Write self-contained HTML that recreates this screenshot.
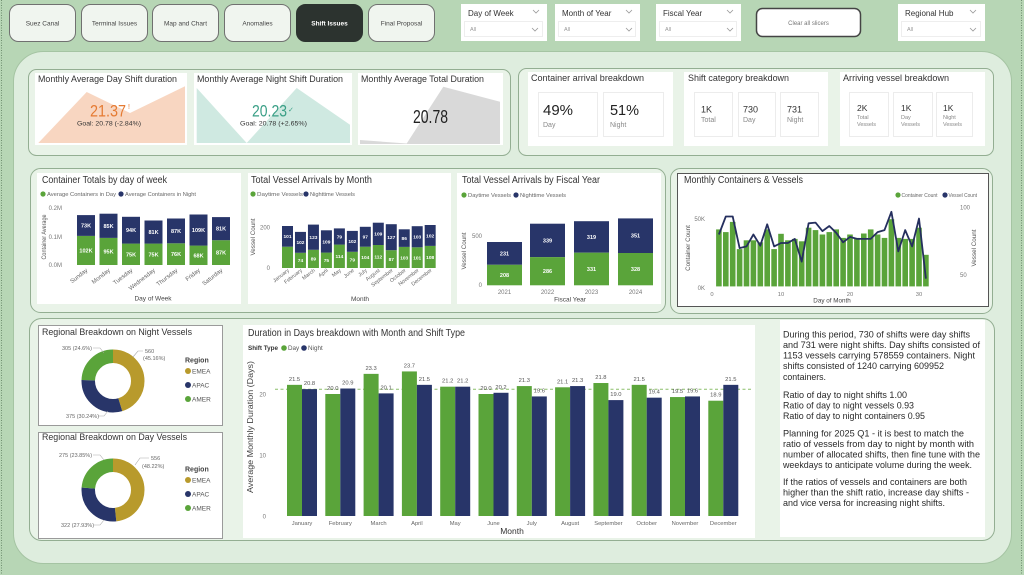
<!DOCTYPE html>
<html><head><meta charset="utf-8"><style>
html,body{margin:0;padding:0;width:1024px;height:575px;overflow:hidden;background:#b7d6b5}
svg{display:block}
text{font-family:"Liberation Sans",sans-serif}
</style></head><body>
<svg width="1024" height="575" viewBox="0 0 1024 575" xmlns="http://www.w3.org/2000/svg">
<rect x="0" y="0" width="1024" height="575" fill="#b7d6b5"/>
<line x1="1.5" y1="0" x2="1.5" y2="575" stroke="#6f8f6f" stroke-width="1" stroke-dasharray="1 1.5"/>
<line x1="1021.5" y1="0" x2="1021.5" y2="575" stroke="#6f8f6f" stroke-width="1" stroke-dasharray="1 1.5"/>

<!-- NAV -->
<g font-size="6.5" fill="#444" text-anchor="middle">
<rect x="9.5" y="4.5" width="66" height="37" rx="9" fill="#f0f5ef" stroke="#707070"/>
<text x="42.5" y="25.5">Suez Canal</text>
<rect x="81.5" y="4.5" width="66" height="37" rx="9" fill="#f0f5ef" stroke="#707070"/>
<text x="114.5" y="25.5">Terminal Issues</text>
<rect x="152.5" y="4.5" width="66" height="37" rx="9" fill="#f0f5ef" stroke="#707070"/>
<text x="185.5" y="25.5">Map and Chart</text>
<rect x="224.5" y="4.5" width="66" height="37" rx="9" fill="#f0f5ef" stroke="#707070"/>
<text x="257.5" y="25.5">Anomalies</text>
<rect x="296.5" y="4.5" width="66" height="37" rx="9" fill="#2c332f" stroke="#2c332f"/>
<text x="329.5" y="25.5" fill="#fff" font-weight="bold">Shift Issues</text>
<rect x="368.5" y="4.5" width="66" height="37" rx="9" fill="#f0f5ef" stroke="#707070"/>
<text x="401.5" y="25.5">Final Proposal</text>
</g>

<!-- SLICERS -->
<g>
<rect x="461" y="4" width="86" height="37" fill="#fff"/>
<text x="468" y="16" font-size="8" fill="#333">Day of Week</text>
<polyline points="533,10 536,13 539,10" fill="none" stroke="#999" stroke-width="0.8"/>
<rect x="464.5" y="21.5" width="78" height="15" fill="#fff" stroke="#eee"/>
<text x="470" y="31" font-size="5.5" fill="#999">All</text>
<polyline points="532,28 535,31 538,28" fill="none" stroke="#999" stroke-width="0.8"/>

<rect x="555" y="4" width="85" height="37" fill="#fff"/>
<text x="562" y="16" font-size="8" fill="#333">Month of Year</text>
<polyline points="626,10 629,13 632,10" fill="none" stroke="#999" stroke-width="0.8"/>
<rect x="558.5" y="21.5" width="77" height="15" fill="#fff" stroke="#eee"/>
<text x="564" y="31" font-size="5.5" fill="#999">All</text>
<polyline points="626,28 629,31 632,28" fill="none" stroke="#999" stroke-width="0.8"/>

<rect x="656" y="4" width="85" height="37" fill="#fff"/>
<text x="663" y="16" font-size="8" fill="#333">Fiscal Year</text>
<polyline points="727,10 730,13 733,10" fill="none" stroke="#999" stroke-width="0.8"/>
<rect x="659.5" y="21.5" width="77" height="15" fill="#fff" stroke="#eee"/>
<text x="665" y="31" font-size="5.5" fill="#999">All</text>
<polyline points="727,28 730,31 733,28" fill="none" stroke="#999" stroke-width="0.8"/>

<rect x="756.5" y="8.5" width="104" height="28" rx="6" fill="#fff" stroke="#444" stroke-width="1.5"/>
<text x="808.5" y="25" font-size="6" fill="#777" text-anchor="middle">Clear all slicers</text>

<rect x="898" y="4" width="87" height="37" fill="#fff"/>
<text x="905" y="16" font-size="8" fill="#333">Regional Hub</text>
<polyline points="970,10 973,13 976,10" fill="none" stroke="#999" stroke-width="0.8"/>
<rect x="901.5" y="21.5" width="79" height="15" fill="#fff" stroke="#eee"/>
<text x="907" y="31" font-size="5.5" fill="#999">All</text>
<polyline points="970,28 973,31 976,28" fill="none" stroke="#999" stroke-width="0.8"/>
</g>

<!-- MAIN PANEL -->
<rect x="13.5" y="51.5" width="998" height="512" rx="30" fill="#deedde" stroke="#a5c4a3"/>

<!-- ROW CONTAINERS -->
<g fill="#e9f3e8" stroke="#93ae92">
<rect x="28.5" y="69.5" width="482" height="86" rx="8"/>
<rect x="518.5" y="68.5" width="475" height="87" rx="8"/>
<rect x="30.5" y="168.5" width="635" height="144" rx="10"/>
<rect x="670.5" y="168.5" width="322" height="145" rx="10"/>
<rect x="29.5" y="318.5" width="965" height="222" rx="12"/>
</g>

<!-- CARDS -->
<g fill="#fff">
<rect x="35" y="73" width="152" height="72"/>
<rect x="194" y="73" width="158" height="72"/>
<rect x="358" y="73" width="145" height="72"/>
<rect x="528" y="72" width="145" height="74"/>
<rect x="684" y="72" width="144" height="74"/>
<rect x="840" y="72" width="145" height="74"/>
<rect x="37" y="173" width="204" height="131"/>
<rect x="248" y="173" width="203" height="131"/>
<rect x="457" y="173" width="204" height="131"/>
<rect x="677.5" y="173.5" width="311" height="133" stroke="#555"/>
<rect x="38.5" y="325.5" width="184" height="100" stroke="#9a9a9a"/>
<rect x="38.5" y="432.5" width="184" height="106" stroke="#9a9a9a"/>
<rect x="243" y="325" width="512" height="213"/>
<rect x="780" y="320" width="205" height="217"/>
</g>

<!-- KPI ROW LEFT -->
<polygon points="38.3,143 86.7,92 130,113 185,86.3 185,143" fill="#f8d6c1"/>
<polygon points="196.7,88 246.7,143 296.7,88 350,124.7 350,143 196.7,143" fill="#cfe9e1"/>
<polygon points="360,140 406.7,143.5 443.3,86.7 500,101.7 500,144 360,144" fill="#d9d9d9"/>
<g font-size="9" fill="#333">
<text x="38" y="82" textLength="139" lengthAdjust="spacingAndGlyphs">Monthly Average Day Shift duration</text>
<text x="197" y="82" textLength="146" lengthAdjust="spacingAndGlyphs">Monthly Average Night Shift Duration</text>
<text x="361" y="82" textLength="123" lengthAdjust="spacingAndGlyphs">Monthly Average Total Duration</text>
</g>
<text x="90" y="116.5" font-size="17" fill="#e57b33" textLength="36" lengthAdjust="spacingAndGlyphs">21.37</text>
<text x="128" y="109" font-size="7" fill="#e57b33">!</text>
<text x="109" y="125.5" font-size="6.8" fill="#333" text-anchor="middle" textLength="64" lengthAdjust="spacingAndGlyphs">Goal: 20.78 (-2.84%)</text>
<text x="252" y="116.5" font-size="17" fill="#3a9f86" textLength="35" lengthAdjust="spacingAndGlyphs">20.23</text>
<text x="288" y="112" font-size="7" fill="#3a9f86">✓</text>
<text x="273.5" y="125.5" font-size="6.8" fill="#333" text-anchor="middle" textLength="67" lengthAdjust="spacingAndGlyphs">Goal: 20.78 (+2.65%)</text>
<text x="413" y="123" font-size="18" fill="#222" textLength="35" lengthAdjust="spacingAndGlyphs">20.78</text>

<!-- KPI ROW RIGHT -->
<g font-size="9" fill="#333">
<text x="531" y="81" textLength="113" lengthAdjust="spacingAndGlyphs">Container arrival breakdown</text>
<text x="688" y="81" textLength="101" lengthAdjust="spacingAndGlyphs">Shift category breakdown</text>
<text x="843" y="81" textLength="106" lengthAdjust="spacingAndGlyphs">Arriving vessel breakdown</text>
</g>
<g fill="#fff" stroke="#ececec">
<rect x="538.5" y="92.5" width="59" height="44"/>
<rect x="603.5" y="92.5" width="60" height="44"/>
<rect x="694.5" y="92.5" width="38" height="44"/>
<rect x="738.5" y="92.5" width="37" height="44"/>
<rect x="780.5" y="92.5" width="38" height="44"/>
<rect x="849.5" y="92.5" width="39" height="44"/>
<rect x="893.5" y="92.5" width="39" height="44"/>
<rect x="936.5" y="92.5" width="36" height="44"/>
</g>
<text x="543" y="115" font-size="15" fill="#222" textLength="30" lengthAdjust="spacingAndGlyphs">49%</text>
<text x="543" y="127" font-size="7" fill="#888">Day</text>
<text x="610" y="115" font-size="15" fill="#222" textLength="29" lengthAdjust="spacingAndGlyphs">51%</text>
<text x="610" y="127" font-size="7" fill="#888">Night</text>
<g font-size="9" fill="#333">
<text x="701" y="112.5">1K</text>
<text x="743" y="112.5">730</text>
<text x="787" y="112.5">731</text>
</g>
<g font-size="7" fill="#888">
<text x="701" y="122">Total</text>
<text x="743" y="122">Day</text>
<text x="787" y="122">Night</text>
</g>
<g font-size="8.5" fill="#333">
<text x="857" y="111">2K</text>
<text x="901" y="111">1K</text>
<text x="943" y="111">1K</text>
</g>
<g font-size="5.5" fill="#888">
<text x="857" y="119">Total</text><text x="857" y="126">Vessels</text>
<text x="901" y="119">Day</text><text x="901" y="126">Vessels</text>
<text x="943" y="119">Night</text><text x="943" y="126">Vessels</text>
</g>

<!-- ROW 2 TITLES -->
<g font-size="10" fill="#333">
<text x="42" y="183" textLength="125" lengthAdjust="spacingAndGlyphs">Container Totals by day of week</text>
<text x="251" y="183" textLength="121" lengthAdjust="spacingAndGlyphs">Total Vessel Arrivals by Month</text>
<text x="462" y="183" textLength="138" lengthAdjust="spacingAndGlyphs">Total Vessel Arrivals by Fiscal Year</text>
<text x="684" y="183" textLength="119" lengthAdjust="spacingAndGlyphs">Monthly Containers &amp; Vessels</text>
</g>
<!-- legends row 2 -->
<g font-size="5.8" fill="#666">
<circle cx="43" cy="194" r="2.6" fill="#5aa43a"/>
<text x="47" y="196" textLength="69" lengthAdjust="spacingAndGlyphs">Average Containers in Day</text>
<circle cx="121" cy="194" r="2.6" fill="#283569"/>
<text x="125" y="196" textLength="71" lengthAdjust="spacingAndGlyphs">Average Containers in Night</text>
<circle cx="253" cy="194" r="2.6" fill="#5aa43a"/>
<text x="257" y="196" textLength="46" lengthAdjust="spacingAndGlyphs">Daytime Vessels</text>
<circle cx="306" cy="194" r="2.6" fill="#283569"/>
<text x="310" y="196" textLength="45" lengthAdjust="spacingAndGlyphs">Nighttime Vessels</text>
<circle cx="464" cy="195" r="2.6" fill="#5aa43a"/>
<text x="468" y="197" textLength="43" lengthAdjust="spacingAndGlyphs">Daytime Vessels</text>
<circle cx="516" cy="195" r="2.6" fill="#283569"/>
<text x="520" y="197" textLength="46" lengthAdjust="spacingAndGlyphs">Nighttime Vessels</text>
<circle cx="898" cy="195" r="2.6" fill="#5aa43a"/>
<text x="901.5" y="197" textLength="36" lengthAdjust="spacingAndGlyphs">Container Count</text>
<circle cx="945" cy="195" r="2.6" fill="#283569"/>
<text x="948.5" y="197" textLength="28.5" lengthAdjust="spacingAndGlyphs">Vessel Count</text>
</g>

<!-- CONTAINER TOTALS CHART -->
<g font-size="6" fill="#777" text-anchor="end">
<text x="62" y="210">0.2M</text>
<text x="62" y="239">0.1M</text>
<text x="62" y="267">0.0M</text>
</g>
<text transform="translate(46,237) rotate(-90)" text-anchor="middle" font-size="6.3" fill="#555" textLength="45" lengthAdjust="spacingAndGlyphs">Container Average</text>
<g fill="#5aa43a">
<rect x="77" y="235.9" width="18" height="29.1"/>
<rect x="99.5" y="237.9" width="18" height="27.1"/>
<rect x="122" y="243.6" width="18" height="21.4"/>
<rect x="144.5" y="243.6" width="18" height="21.4"/>
<rect x="167" y="243.3" width="18" height="21.7"/>
<rect x="189.5" y="245.6" width="18" height="19.4"/>
<rect x="212" y="240.2" width="18" height="24.8"/>
</g>
<g fill="#283569">
<rect x="77" y="215.1" width="18" height="20.8"/>
<rect x="99.5" y="213.7" width="18" height="24.2"/>
<rect x="122" y="216.8" width="18" height="26.8"/>
<rect x="144.5" y="220.5" width="18" height="23.1"/>
<rect x="167" y="218.5" width="18" height="24.8"/>
<rect x="189.5" y="214.5" width="18" height="31.1"/>
<rect x="212" y="217.1" width="18" height="23.1"/>
</g>
<g font-size="5.5" fill="#fff" font-weight="bold" text-anchor="middle">
<text x="86" y="227.5">73K</text><text x="86" y="252.5">102K</text>
<text x="108.5" y="227.8">85K</text><text x="108.5" y="253.5">95K</text>
<text x="131" y="232.2">94K</text><text x="131" y="256.3">75K</text>
<text x="153.5" y="234">81K</text><text x="153.5" y="256.3">75K</text>
<text x="176" y="232.9">87K</text><text x="176" y="256.2">76K</text>
<text x="198.5" y="232">109K</text><text x="198.5" y="257.3">68K</text>
<text x="221" y="230.7">81K</text><text x="221" y="254.6">87K</text>
</g>
<g font-size="6" fill="#666" text-anchor="end">
<text transform="translate(88,271) rotate(-38)">Sunday</text>
<text transform="translate(110.5,271) rotate(-38)">Monday</text>
<text transform="translate(133,271) rotate(-38)">Tuesday</text>
<text transform="translate(155.5,271) rotate(-38)">Wednesday</text>
<text transform="translate(178,271) rotate(-38)">Thursday</text>
<text transform="translate(200.5,271) rotate(-38)">Friday</text>
<text transform="translate(223,271) rotate(-38)">Saturday</text>
</g>
<text x="153" y="300.5" font-size="6.5" fill="#444" text-anchor="middle">Day of Week</text>

<!-- VESSEL BY MONTH CHART -->
<g font-size="6" fill="#777" text-anchor="end">
<text x="270" y="229.5">200</text>
<text x="270" y="270">0</text>
</g>
<text transform="translate(255,237) rotate(-90)" text-anchor="middle" font-size="6.3" fill="#555">Vessel Count</text>
<g fill="#5aa43a">
<rect x="282" y="246.7" width="11" height="21.3"/>
<rect x="294.97" y="252.8" width="11" height="15.2"/>
<rect x="307.94" y="249.8" width="11" height="18.2"/>
<rect x="320.91" y="252.6" width="11" height="15.4"/>
<rect x="333.88" y="244.6" width="11" height="23.4"/>
<rect x="346.85" y="251.8" width="11" height="16.2"/>
<rect x="359.82" y="246.7" width="11" height="21.3"/>
<rect x="372.79" y="245" width="11" height="23"/>
<rect x="385.76" y="250.2" width="11" height="17.8"/>
<rect x="398.73" y="246.9" width="11" height="21.1"/>
<rect x="411.7" y="247.3" width="11" height="20.7"/>
<rect x="424.67" y="245.9" width="11" height="22.1"/>
</g>
<g fill="#283569">
<rect x="282" y="226" width="11" height="20.7"/>
<rect x="294.97" y="231.9" width="11" height="20.9"/>
<rect x="307.94" y="224.6" width="11" height="25.2"/>
<rect x="320.91" y="230.3" width="11" height="22.3"/>
<rect x="333.88" y="228.4" width="11" height="16.2"/>
<rect x="346.85" y="230.9" width="11" height="20.9"/>
<rect x="359.82" y="226.8" width="11" height="19.9"/>
<rect x="372.79" y="222.7" width="11" height="22.3"/>
<rect x="385.76" y="224.2" width="11" height="26"/>
<rect x="398.73" y="229.3" width="11" height="17.6"/>
<rect x="411.7" y="226.2" width="11" height="21.1"/>
<rect x="424.67" y="225" width="11" height="20.9"/>
</g>
<g font-size="4.8" fill="#fff" font-weight="bold" text-anchor="middle">
<text x="287.5" y="238.2">101</text>
<text x="300.47" y="244.2">102</text><text x="300.47" y="262.2">74</text>
<text x="313.44" y="239">123</text><text x="313.44" y="260.7">89</text>
<text x="326.41" y="243.3">109</text><text x="326.41" y="262.1">75</text>
<text x="339.38" y="238.3">79</text><text x="339.38" y="258.1">114</text>
<text x="352.35" y="243.2">102</text><text x="352.35" y="261.7">79</text>
<text x="365.32" y="238.6">97</text><text x="365.32" y="259.2">104</text>
<text x="378.29" y="235.7">109</text><text x="378.29" y="258.3">112</text>
<text x="391.26" y="239">127</text><text x="391.26" y="260.9">87</text>
<text x="404.23" y="239.9">86</text><text x="404.23" y="259.3">103</text>
<text x="417.2" y="238.6">103</text><text x="417.2" y="259.5">101</text>
<text x="430.17" y="237.3">102</text><text x="430.17" y="258.8">108</text>
</g>
<g font-size="5.3" fill="#666" text-anchor="end">
<text transform="translate(289.5,271) rotate(-38)">January</text>
<text transform="translate(302.5,271) rotate(-38)">February</text>
<text transform="translate(315.4,271) rotate(-38)">March</text>
<text transform="translate(328.4,271) rotate(-38)">April</text>
<text transform="translate(341.4,271) rotate(-38)">May</text>
<text transform="translate(354.4,271) rotate(-38)">June</text>
<text transform="translate(367.3,271) rotate(-38)">July</text>
<text transform="translate(380.3,271) rotate(-38)">August</text>
<text transform="translate(393.3,271) rotate(-38)">September</text>
<text transform="translate(406.2,271) rotate(-38)">October</text>
<text transform="translate(419.2,271) rotate(-38)">November</text>
<text transform="translate(432.2,271) rotate(-38)">December</text>
</g>
<text x="360" y="301" font-size="6.5" fill="#444" text-anchor="middle">Month</text>

<!-- FISCAL YEAR CHART -->
<g font-size="6" fill="#777" text-anchor="end">
<text x="482" y="238">500</text>
<text x="482" y="287">0</text>
</g>
<text transform="translate(466,251) rotate(-90)" text-anchor="middle" font-size="6.3" fill="#555">Vessel Count</text>
<g fill="#283569">
<rect x="487" y="242" width="35" height="22.8"/>
<rect x="530" y="223.7" width="35" height="33.4"/>
<rect x="574" y="221.2" width="35" height="31.5"/>
<rect x="618" y="218.4" width="35" height="34.6"/>
</g>
<g fill="#5aa43a">
<rect x="487" y="264.8" width="35" height="20.5"/>
<rect x="530" y="257.1" width="35" height="28.2"/>
<rect x="574" y="252.7" width="35" height="32.6"/>
<rect x="618" y="253" width="35" height="32.3"/>
</g>
<g font-size="5.5" fill="#fff" font-weight="bold" text-anchor="middle">
<text x="504.5" y="255.4">231</text><text x="504.5" y="277">208</text>
<text x="547.5" y="242.4">339</text><text x="547.5" y="273.2">286</text>
<text x="591.5" y="239">319</text><text x="591.5" y="271">331</text>
<text x="635.5" y="237.7">351</text><text x="635.5" y="271.2">328</text>
</g>
<g font-size="6" fill="#777" text-anchor="middle">
<text x="504.5" y="294">2021</text>
<text x="547.5" y="294">2022</text>
<text x="591.5" y="294">2023</text>
<text x="635.5" y="294">2024</text>
</g>
<text x="570" y="301.5" font-size="6.5" fill="#444" text-anchor="middle">Fiscal Year</text>

<!-- MONTHLY CONTAINERS & VESSELS -->
<g font-size="6" fill="#777">
<text x="705" y="221" text-anchor="end">50K</text>
<text x="705" y="290" text-anchor="end">0K</text>
<text x="960" y="209.5">100</text>
<text x="960" y="277">50</text>
</g>
<text transform="translate(690,248) rotate(-90)" text-anchor="middle" font-size="6.3" fill="#555">Container Count</text>
<text transform="translate(976,248) rotate(-90)" text-anchor="middle" font-size="6.3" fill="#555">Vessel Count</text>
<g fill="#5aa43a">
<rect x="716.1" y="229.4" width="5.6" height="57"/>
<rect x="723" y="232.1" width="5.6" height="54.3"/>
<rect x="729.9" y="221.9" width="5.6" height="64.5"/>
<rect x="736.8" y="249.1" width="5.6" height="37.3"/>
<rect x="743.7" y="240.3" width="5.6" height="46.1"/>
<rect x="750.6" y="240.3" width="5.6" height="46.1"/>
<rect x="757.5" y="242.3" width="5.6" height="44.1"/>
<rect x="764.4" y="229.4" width="5.6" height="57"/>
<rect x="771.3" y="249.1" width="5.6" height="37.3"/>
<rect x="778.2" y="233.8" width="5.6" height="52.6"/>
<rect x="785.1" y="240.3" width="5.6" height="46.1"/>
<rect x="792" y="238.9" width="5.6" height="47.5"/>
<rect x="798.9" y="241.3" width="5.6" height="45.1"/>
<rect x="805.8" y="227.7" width="5.6" height="58.7"/>
<rect x="812.7" y="230.1" width="5.6" height="56.3"/>
<rect x="819.6" y="234.5" width="5.6" height="51.9"/>
<rect x="826.5" y="232.1" width="5.6" height="54.3"/>
<rect x="833.4" y="229.4" width="5.6" height="57"/>
<rect x="840.3" y="237.9" width="5.6" height="48.5"/>
<rect x="847.2" y="234.5" width="5.6" height="51.9"/>
<rect x="854.1" y="237.9" width="5.6" height="48.5"/>
<rect x="861" y="233.5" width="5.6" height="52.9"/>
<rect x="867.9" y="229.4" width="5.6" height="57"/>
<rect x="874.8" y="234.5" width="5.6" height="51.9"/>
<rect x="881.7" y="237.9" width="5.6" height="48.5"/>
<rect x="888.6" y="219.2" width="5.6" height="67.2"/>
<rect x="895.5" y="237.9" width="5.6" height="48.5"/>
<rect x="902.4" y="238.9" width="5.6" height="47.5"/>
<rect x="909.3" y="238.9" width="5.6" height="47.5"/>
<rect x="916.2" y="227.7" width="5.6" height="58.7"/>
<rect x="923.1" y="254.8" width="5.6" height="31.6"/>
</g>
<polyline fill="none" stroke="#252f5e" stroke-width="1.8" stroke-linejoin="round" points="718.9,234.5 725.8,216.5 732.7,216.5 739.6,248.1 746.5,246.4 753.4,234.5 760.3,245.7 767.2,224.3 774.1,246.4 781,243 787.9,243 794.8,238.9 801.7,261.6 808.6,223.3 815.5,222.6 822.4,231.1 829.3,226 836.2,232.8 843.1,242.3 850,236.9 856.9,238.9 863.8,238.9 870.7,238.9 877.6,232.1 884.5,230.1 891.4,211.8 898.3,251.4 905.2,230.1 912.1,246.4 919,218.6 925.9,278.6"/>
<g font-size="5.8" fill="#777" text-anchor="middle">
<text x="712" y="296">0</text>
<text x="781" y="296">10</text>
<text x="850" y="296">20</text>
<text x="919" y="296">30</text>
</g>
<text x="832" y="302.5" font-size="6.3" fill="#444" text-anchor="middle">Day of Month</text>

<!-- DONUTS -->
<text x="42" y="335" font-size="9.5" fill="#333" textLength="150" lengthAdjust="spacingAndGlyphs">Regional Breakdown on Night Vessels</text>
<text x="42" y="440" font-size="9.5" fill="#333" textLength="145" lengthAdjust="spacingAndGlyphs">Regional Breakdown on Day Vessels</text>
<g fill="none" stroke-width="13.5">
<circle cx="113" cy="381" r="24.75" stroke="#b89a2c" stroke-dasharray="70.23 200" transform="rotate(-90 113 381)"/>
<circle cx="113" cy="381" r="24.75" stroke="#283569" stroke-dasharray="0 70.23 47.03 200" transform="rotate(-90 113 381)"/>
<circle cx="113" cy="381" r="24.75" stroke="#5aa43a" stroke-dasharray="0 117.26 38.26 200" transform="rotate(-90 113 381)"/>
<circle cx="113" cy="490" r="24.75" stroke="#b89a2c" stroke-dasharray="74.99 200" transform="rotate(-90 113 490)"/>
<circle cx="113" cy="490" r="24.75" stroke="#283569" stroke-dasharray="0 74.99 43.43 200" transform="rotate(-90 113 490)"/>
<circle cx="113" cy="490" r="24.75" stroke="#5aa43a" stroke-dasharray="0 118.42 37.09 200" transform="rotate(-90 113 490)"/>
</g>
<g fill="none" stroke="#aaa" stroke-width="0.6">
<polyline points="133,357 138,351 143,351"/>
<polyline points="93,348 100,348 104,353"/>
<polyline points="98,416 104,416 108,411"/>
<polyline points="135,465 140,458 149,458"/>
<polyline points="93,455 100,455 104,460"/>
<polyline points="94,525 100,525 104,520"/>
</g>
<g font-size="5.5" fill="#666">
<text x="145" y="353">560</text>
<text x="143" y="360">(45.16%)</text>
<text x="62" y="350">305 (24.6%)</text>
<text x="66" y="418">375 (30.24%)</text>
<text x="151" y="460">556</text>
<text x="142" y="468">(48.22%)</text>
<text x="59" y="457">275 (23.85%)</text>
<text x="61" y="527">322 (27.93%)</text>
</g>
<g font-size="6.5" fill="#555">
<text x="185" y="362.5" font-size="7" font-weight="bold" fill="#444">Region</text>
<circle cx="188" cy="371" r="3" fill="#b89a2c"/><text x="192" y="373.5">EMEA</text>
<circle cx="188" cy="385" r="3" fill="#283569"/><text x="192" y="387.5">APAC</text>
<circle cx="188" cy="399" r="3" fill="#5aa43a"/><text x="192" y="401.5">AMER</text>
<text x="185" y="471.5" font-size="7" font-weight="bold" fill="#444">Region</text>
<circle cx="188" cy="480" r="3" fill="#b89a2c"/><text x="192" y="482.5">EMEA</text>
<circle cx="188" cy="494" r="3" fill="#283569"/><text x="192" y="496.5">APAC</text>
<circle cx="188" cy="508" r="3" fill="#5aa43a"/><text x="192" y="510.5">AMER</text>
</g>

<!-- DURATION CHART -->
<text x="248" y="336" font-size="10.5" fill="#333" textLength="217" lengthAdjust="spacingAndGlyphs">Duration in Days breakdown with Month and Shift Type</text>
<text x="248" y="350" font-size="6.3" font-weight="bold" fill="#333">Shift Type</text>
<circle cx="284" cy="348" r="2.8" fill="#5aa43a"/>
<text x="288" y="350" font-size="6.3" fill="#555">Day</text>
<circle cx="304" cy="348" r="2.8" fill="#283569"/>
<text x="308" y="350" font-size="6.3" fill="#555">Night</text>
<g font-size="6" fill="#777" text-anchor="end">
<text x="266" y="518.5">0</text>
<text x="266" y="457.5">10</text>
<text x="266" y="396.5">20</text>
</g>
<text transform="translate(253,427) rotate(-90)" text-anchor="middle" font-size="8.5" fill="#444" textLength="132" lengthAdjust="spacingAndGlyphs">Average Monthly Duration (Days)</text>
<line x1="275" y1="389.3" x2="752" y2="389.3" stroke="#8cbf6a" stroke-width="1" stroke-dasharray="3 2.5"/>
<g fill="#5aa43a">
<rect x="287" y="384.85" width="15" height="131.15"/>
<rect x="325.3" y="394" width="15" height="122"/>
<rect x="363.6" y="373.87" width="15" height="142.13"/>
<rect x="401.9" y="371.43" width="15" height="144.57"/>
<rect x="440.2" y="386.68" width="15" height="129.32"/>
<rect x="478.5" y="394" width="15" height="122"/>
<rect x="516.8" y="386.07" width="15" height="129.93"/>
<rect x="555.1" y="387.29" width="15" height="128.71"/>
<rect x="593.4" y="383.02" width="15" height="132.98"/>
<rect x="631.7" y="384.85" width="15" height="131.15"/>
<rect x="670" y="397.05" width="15" height="118.95"/>
<rect x="708.3" y="400.71" width="15" height="115.29"/>
</g>
<g fill="#283569">
<rect x="302" y="389.12" width="15" height="126.88"/>
<rect x="340.3" y="388.51" width="15" height="127.49"/>
<rect x="378.6" y="393.39" width="15" height="122.61"/>
<rect x="416.9" y="384.85" width="15" height="131.15"/>
<rect x="455.2" y="386.68" width="15" height="129.32"/>
<rect x="493.5" y="392.78" width="15" height="123.22"/>
<rect x="531.8" y="396.44" width="15" height="119.56"/>
<rect x="570.1" y="386.07" width="15" height="129.93"/>
<rect x="608.4" y="400.1" width="15" height="115.9"/>
<rect x="646.7" y="397.66" width="15" height="118.34"/>
<rect x="685" y="396.44" width="15" height="119.56"/>
<rect x="723.3" y="384.85" width="15" height="131.15"/>
</g>
<g font-size="5.8" fill="#555" text-anchor="middle">
<text x="294.5" y="380.8">21.5</text><text x="309.5" y="385.1">20.8</text>
<text x="332.8" y="390">20.0</text><text x="347.8" y="384.5">20.9</text>
<text x="371.1" y="369.9">23.3</text><text x="386.1" y="389.4">20.1</text>
<text x="409.4" y="367.4">23.7</text><text x="424.4" y="380.8">21.5</text>
<text x="447.7" y="382.7">21.2</text><text x="462.7" y="382.7">21.2</text>
<text x="486" y="390">20.0</text><text x="501" y="388.8">20.2</text>
<text x="524.3" y="382.1">21.3</text><text x="539.3" y="392.4">19.6</text>
<text x="562.6" y="383.3">21.1</text><text x="577.6" y="382.1">21.3</text>
<text x="600.9" y="379">21.8</text><text x="615.9" y="396.1">19.0</text>
<text x="639.2" y="380.8">21.5</text><text x="654.2" y="393.7">19.4</text>
<text x="677.5" y="393">19.5</text><text x="692.5" y="392.4">19.6</text>
<text x="715.8" y="396.7">18.9</text><text x="730.8" y="380.8">21.5</text>
</g>
<g font-size="5.8" fill="#666" text-anchor="middle">
<text x="302" y="525">January</text>
<text x="340.3" y="525">February</text>
<text x="378.6" y="525">March</text>
<text x="416.9" y="525">April</text>
<text x="455.2" y="525">May</text>
<text x="493.5" y="525">June</text>
<text x="531.8" y="525">July</text>
<text x="570.1" y="525">August</text>
<text x="608.4" y="525">September</text>
<text x="646.7" y="525">October</text>
<text x="685" y="525">November</text>
<text x="723.3" y="525">December</text>
</g>
<text x="512" y="534" font-size="8.5" fill="#333" text-anchor="middle">Month</text>

<!-- TEXT PANEL -->
<g font-size="9.2" fill="#2a2a2a">
<text x="783" y="337.5" textLength="187" lengthAdjust="spacingAndGlyphs">During this period, 730 of shifts were day shifts</text>
<text x="783" y="348" textLength="197" lengthAdjust="spacingAndGlyphs">and 731 were night shifts.  Day shifts consisted of</text>
<text x="783" y="358.5" textLength="192" lengthAdjust="spacingAndGlyphs">1153 vessels carrying 578559 containers.  Night</text>
<text x="783" y="369" textLength="161" lengthAdjust="spacingAndGlyphs">shifts consisted of 1240 carrying 609952</text>
<text x="783" y="380" textLength="43" lengthAdjust="spacingAndGlyphs">containers.</text>
<text x="783" y="398" textLength="124" lengthAdjust="spacingAndGlyphs">Ratio of day to night shifts  1.00</text>
<text x="783" y="408.5" textLength="131" lengthAdjust="spacingAndGlyphs">Ratio of day to night vessels 0.93</text>
<text x="783" y="419" textLength="142" lengthAdjust="spacingAndGlyphs">Ratio of day to night containers 0.95</text>
<text x="783" y="436.5" textLength="181" lengthAdjust="spacingAndGlyphs">Planning for 2025 Q1 -  it is best to match the</text>
<text x="783" y="447" textLength="191" lengthAdjust="spacingAndGlyphs">ratio of vessels from day to night by month with</text>
<text x="783" y="457.5" textLength="197" lengthAdjust="spacingAndGlyphs">number of allocated shifts, then fine tune with the</text>
<text x="783" y="468" textLength="189" lengthAdjust="spacingAndGlyphs">weekdays to anticipate volume during the week.</text>
<text x="783" y="485" textLength="184" lengthAdjust="spacingAndGlyphs">If the ratios of vessels and containers are both</text>
<text x="783" y="495.5" textLength="186" lengthAdjust="spacingAndGlyphs">higher than the shift ratio, increase day shifts -</text>
<text x="783" y="506" textLength="162" lengthAdjust="spacingAndGlyphs">and vice versa for increasing night shifts.</text>
</g>
</svg>
</body></html>
